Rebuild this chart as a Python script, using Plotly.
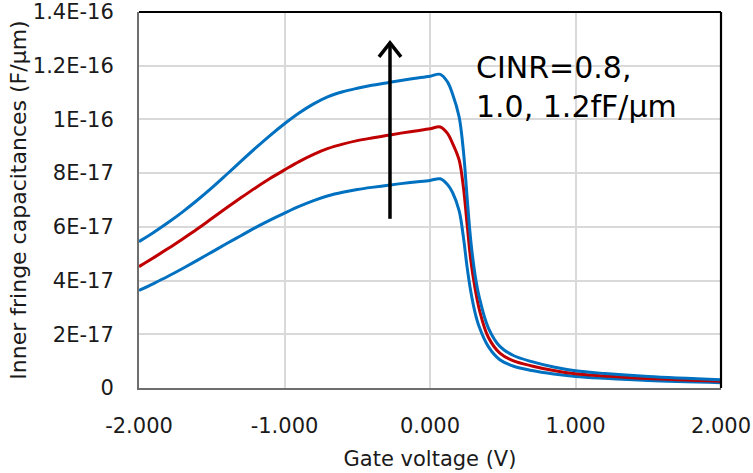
import numpy as np
import plotly.graph_objects as go

# Gate voltage (V)
vg = [-2.0, -1.9, -1.8, -1.7, -1.6, -1.5, -1.4, -1.3, -1.2, -1.1, -1.0, -0.9, -0.8, -0.7,
      -0.6, -0.5, -0.4, -0.3, -0.2, -0.1, 0.0, 0.07, 0.12, 0.155,
      0.20, 0.23, 0.255, 0.28, 0.31, 0.34, 0.40, 0.48, 0.57, 0.7, 0.85, 1.0, 1.2, 1.5, 2.0]

# Inner fringe capacitance, in units of 1e-17 F/um
c_08 = [3.63, 3.89, 4.16, 4.45, 4.75, 5.06, 5.37, 5.67, 5.97, 6.25, 6.51, 6.76, 6.98, 7.16,
        7.29, 7.39, 7.47, 7.54, 7.61, 7.67, 7.73, 7.79, 7.58, 7.28,
        6.60, 5.60, 4.50, 3.60, 2.80, 2.25, 1.55, 1.05, 0.82, 0.65, 0.52, 0.43, 0.36, 0.28, 0.20]
c_10 = [4.52, 4.85, 5.19, 5.55, 5.92, 6.31, 6.70, 7.08, 7.45, 7.80, 8.12, 8.43, 8.70, 8.92,
        9.08, 9.21, 9.31, 9.40, 9.49, 9.57, 9.65, 9.72, 9.48, 9.11,
        8.49, 7.45, 6.10, 4.77, 3.70, 2.90, 1.90, 1.30, 1.02, 0.82, 0.65, 0.53, 0.45, 0.35, 0.25]
c_12 = [5.45, 5.79, 6.16, 6.56, 6.99, 7.45, 7.94, 8.44, 8.93, 9.40, 9.84, 10.24, 10.58, 10.85,
        11.03, 11.16, 11.27, 11.36, 11.45, 11.53, 11.61, 11.68, 11.40, 10.95,
        10.10, 8.80, 7.10, 5.50, 4.20, 3.35, 2.25, 1.55, 1.22, 0.98, 0.78, 0.64, 0.54, 0.43, 0.31]

x_ticks = [-2, -1, 0, 1, 2]
x_ticktext = ["-2.000", "-1.000", "0.000", "1.000", "2.000"]
y_ticks = [0, 2e-17, 4e-17, 6e-17, 8e-17, 1e-16, 1.2e-16, 1.4e-16]
y_ticktext = ["0", "2E-17", "4E-17", "6E-17", "8E-17", "1E-16", "1.2E-16", "1.4E-16"]

# annotation arrow (data coords)
arrow_x = -0.275
arrow_y0 = 6.3e-17
arrow_y1 = 1.285e-16
label_text = "CINR=0.8,<br>1.0, 1.2fF/µm"

SCALE = 1e-17
FONT = "DejaVu Sans"
BLUE = "#0070C0"
RED = "#C00000"
TXT = "#1a1a1a"

fig = go.Figure()
for vals, col in [(c_08, BLUE), (c_10, RED), (c_12, BLUE)]:
    fig.add_trace(go.Scatter(
        x=vg, y=np.array(vals) * SCALE, mode="lines",
        line=dict(color=col, width=3, shape="spline", smoothing=1.0),
        showlegend=False, hoverinfo="skip"))

# arrow shaft
fig.add_shape(type="line", xref="x", yref="y", x0=arrow_x, x1=arrow_x,
              y0=arrow_y0, y1=arrow_y1, line=dict(color="black", width=3.5))
# arrow head (open chevron, pixel-sized)
fig.add_shape(type="path", xref="x", yref="y", xsizemode="pixel", ysizemode="pixel",
              xanchor=arrow_x, yanchor=arrow_y1,
              path="M -11 -14 L 0 0 L 11 -14", line=dict(color="black", width=3.5))

fig.add_annotation(x=0.30, y=11.2e-17, xref="x", yref="y", text=label_text,
                   showarrow=False, xanchor="left", yanchor="middle", align="left",
                   font=dict(family=FONT, size=30, color="black"))

# plot-area frame (top & right black)
fig.add_shape(type="line", xref="paper", yref="paper", x0=0, x1=1, y0=1, y1=1,
              line=dict(color="black", width=2.2))
fig.add_shape(type="line", xref="paper", yref="paper", x0=1, x1=1, y0=0, y1=1,
              line=dict(color="black", width=2.2))

fig.update_layout(
    width=753, height=473,
    margin=dict(l=139, r=32, t=12, b=85, autoexpand=False),
    paper_bgcolor="white", plot_bgcolor="white",
    font=dict(family=FONT, size=21, color=TXT),
    xaxis=dict(range=[-2, 2], tickvals=x_ticks, ticktext=x_ticktext, automargin=False,
               showgrid=True, gridcolor="#D9D9D9", gridwidth=1.5,
               showline=True, linecolor="#6E6E6E", linewidth=2,
               ticks="", ticklabelstandoff=18, zeroline=False,
               title=dict(text="Gate voltage (V)", font=dict(size=21), standoff=14)),
    yaxis=dict(range=[0, 1.4e-16], tickvals=y_ticks, ticktext=y_ticktext, automargin=False,
               showgrid=True, gridcolor="#D9D9D9", gridwidth=1.5,
               showline=True, linecolor="#6E6E6E", linewidth=2,
               ticks="", ticklabelstandoff=19, zeroline=False,
               title=dict(text="Inner fringe capacitances (F/µm)", font=dict(size=22), standoff=0)),
)

fig.write_html("out.html")
